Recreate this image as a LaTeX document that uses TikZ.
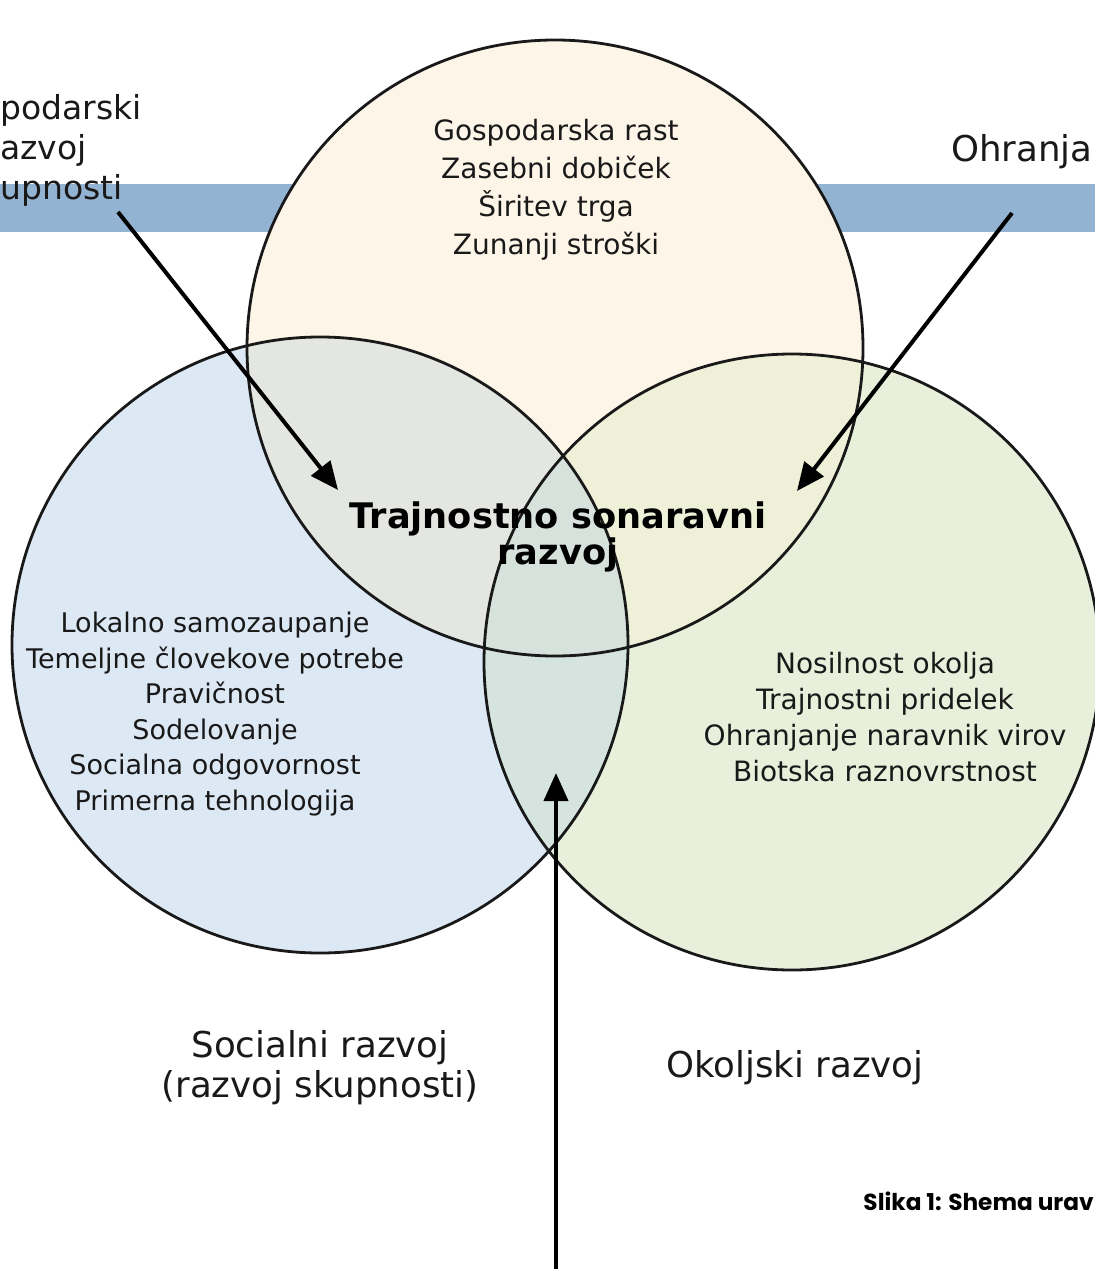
\documentclass[tikz,border=0pt]{standalone}
\usepackage{fontspec}
\setmainfont{DejaVu Sans}
\newfontfamily\capfont{Poppins}
\usepackage{tikz}
\usetikzlibrary{positioning,arrows.meta}
\definecolor{barblue}{HTML}{93B3D2}
\definecolor{econfill}{HTML}{FDF5E7}
\definecolor{socfill}{HTML}{DDE8F5}
\definecolor{envfill}{HTML}{E8F0DC}
\definecolor{ecsoc}{HTML}{E4E6E2}
\definecolor{ecenv}{HTML}{EEF0D7}
\definecolor{socenv}{HTML}{D5E4DE}
\definecolor{corefill}{HTML}{D6E2DB}
\def\rr{308}
\tikzset{%
	ring/.style={%
		draw=black!90,
		line width=1.4pt
	},
	innertext/.style={%
		align=center,
		text=black!90,
		inner sep=0pt,
		font=\fontsize{14}{18}\selectfont
	},
	outertext/.style={%
		align=center,
		text=black!90,
		inner sep=0pt,
		font=\fontsize{17.8}{20}\selectfont
	},
	pointer/.style={%
		-{Triangle[length=14pt,width=12pt]},
		line width=2pt
	}
}

\begin{document}
\begin{tikzpicture}[x=0.5pt, y=-0.5pt]
        \useasboundingbox (0,0) rectangle (1095,1269);
        \clip (0,0) rectangle (1095,1269);
        \fill [barblue] (0,184) rectangle (1095,232);

        \coordinate (econ) at (555,348);
        \coordinate (soc) at (320,645);
        \coordinate (env) at (792,662);

        \fill [econfill] (econ) circle [radius=\rr];
        \fill [socfill] (soc) circle [radius=\rr];
        \fill [envfill] (env) circle [radius=\rr];
        \begin{scope}
            \clip (soc) circle [radius=\rr];
            \fill [socenv] (env) circle [radius=\rr];
        \end{scope}
        \begin{scope}
            \clip (econ) circle [radius=\rr];
            \fill [ecsoc] (soc) circle [radius=\rr];
            \fill [ecenv] (env) circle [radius=\rr];
            \clip (soc) circle [radius=\rr];
            \fill [corefill] (env) circle [radius=\rr];
        \end{scope}
        \draw [ring] (econ) circle [radius=\rr];
        \draw [ring] (soc) circle [radius=\rr];
        \draw [ring] (env) circle [radius=\rr];

        \node [innertext, font=\fontsize{14}{19}\selectfont] (econlist) at (556,190) {Gospodarska rast\\Zasebni dobiček\\Širitev trga\\Zunanji stroški};
        \node [innertext, font=\fontsize{13.5}{17.8}\selectfont] (soclist) at (215,714) {Lokalno samozaupanje\\Temeljne človekove potrebe\\Pravičnost\\Sodelovanje\\Socialna odgovornost\\Primerna tehnologija};
        \node [innertext] (envlist) at (885,717) {Nosilnost okolja\\Trajnostni pridelek\\Ohranjanje naravnik virov\\Biotska raznovrstnost};
        \node [innertext, text=black, font=\bfseries\fontsize{17.6}{18}\selectfont] (core) at (558,537) {Trajnostno sonaravni\\razvoj};

        \node [outertext] (soctitle) at (320,1068) {Socialni razvoj\\(razvoj skupnosti)};
        \node [outertext] (envtitle) at (795,1068) {Okoljski razvoj};
        \node [outertext, font=\fontsize{16.5}{20}\selectfont, align=left, anchor=west] (econtitle) at (0,150) {podarski\\azvoj\\upnosti};
        \node [outertext, anchor=east] (keeptitle) at (1093,152) {Ohranja};
        \node [anchor=east, inner sep=0pt, font=\capfont\bfseries\fontsize{11.6}{13}\selectfont] (caption) at (1094,1201) {Slika 1: Shema urav};

        \coordinate (econfrom) at (118,212);
        \coordinate (econtip) at (338,490);
        \coordinate (keepfrom) at (1012,213);
        \coordinate (keeptip) at (797,491);
        \coordinate (socenvfrom) at (556,1275);
        \coordinate (socenvtip) at (556,773);
        \draw [pointer] (econfrom) -- (econtip);
        \draw [pointer] (keepfrom) -- (keeptip);
        \draw [pointer] (socenvfrom) -- (socenvtip);
    \end{tikzpicture}
\end{document}
